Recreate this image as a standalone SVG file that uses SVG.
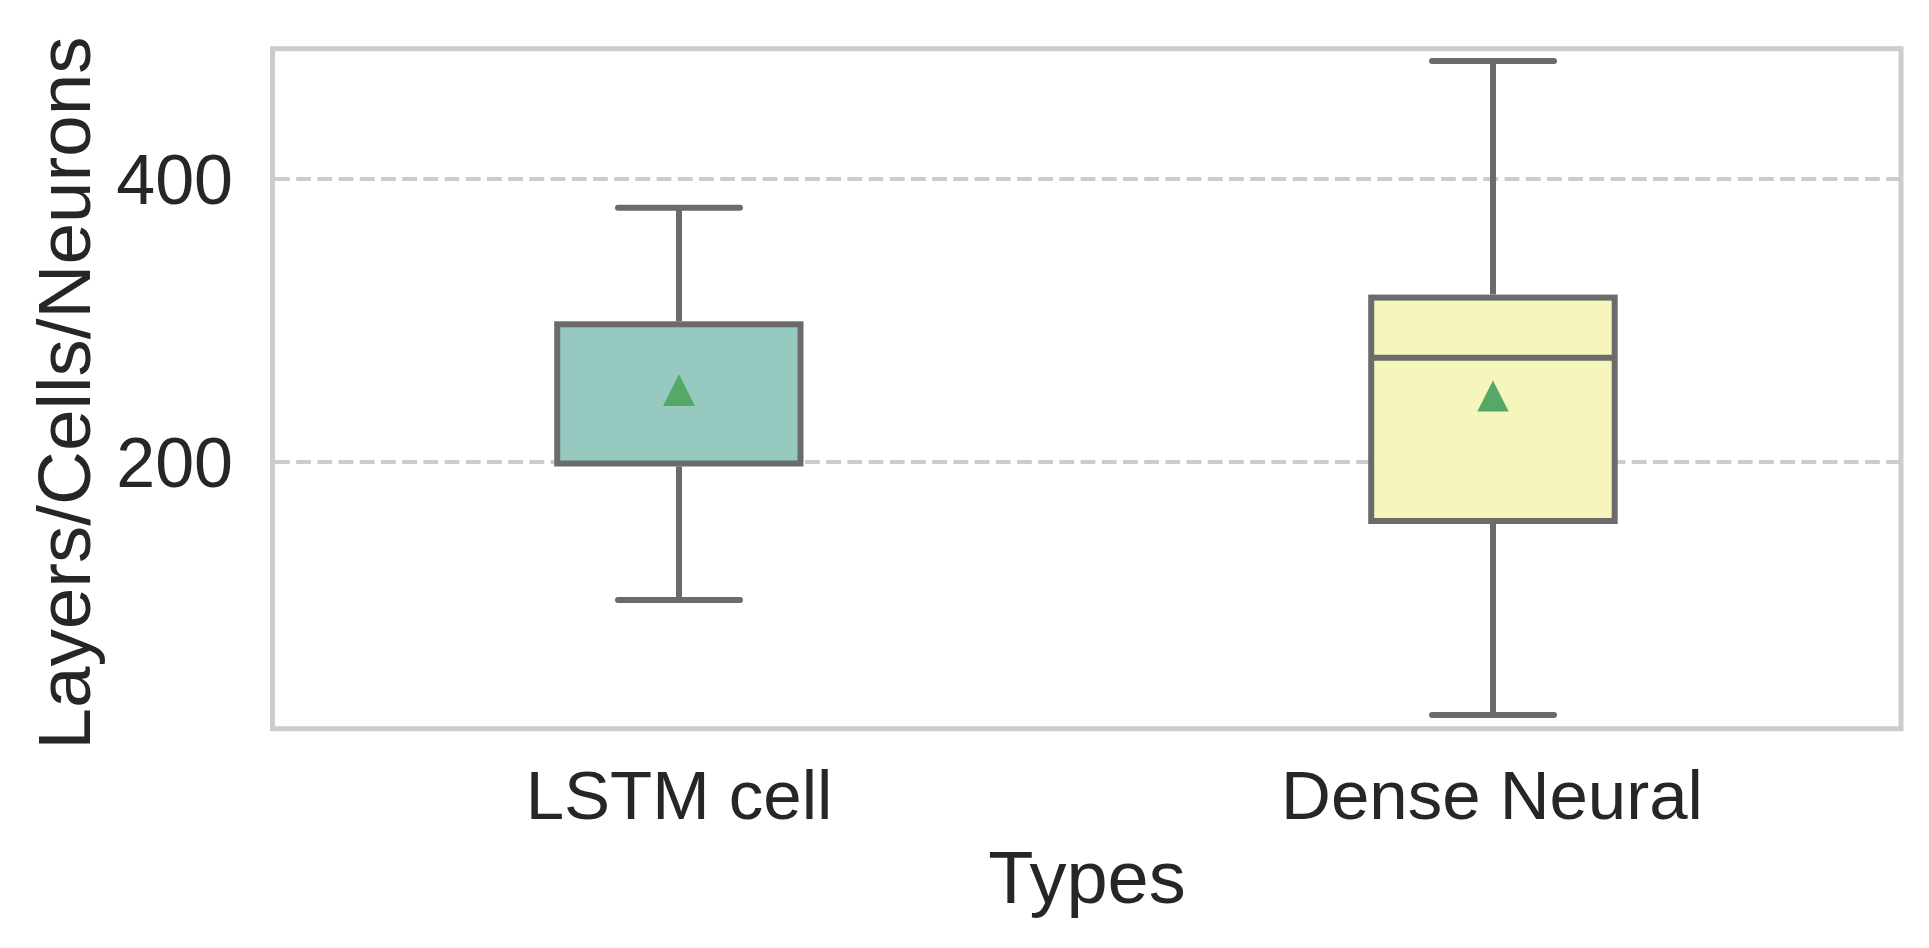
<svg xmlns="http://www.w3.org/2000/svg" width="1929" height="948" viewBox="0 0 1929 948">
<style>
  .txt { font-family: "Liberation Sans", Arial, sans-serif; fill: #262626; }
  .tick { font-size: 70px; }
  .xtick { font-size: 69px; }
  .lab { font-size: 74px; }
  .ylab { font-size: 74.6px; }
  .grid { stroke: #cccccc; stroke-width: 4; stroke-dasharray: 14.8 6.4; fill: none; }
  .frame { stroke: #cccccc; stroke-width: 5; fill: none; }
  .box { stroke: #6b6b6b; stroke-width: 6; }
  .wh { stroke: #6b6b6b; stroke-width: 6; fill: none; }
  .cap { stroke: #6b6b6b; stroke-width: 6; stroke-linecap: round; fill: none; }
  .mean { fill: #55a868; }
</style>
<rect x="0" y="0" width="1929" height="948" fill="#ffffff"/>
<g id="grid">
  <line class="grid" x1="275" y1="179" x2="1899" y2="179"/>
  <line class="grid" x1="275" y1="462" x2="1899" y2="462"/>
</g>
<g id="connectors">
  <line class="wh" x1="679" y1="321.3" x2="679" y2="207.7"/>
  <line class="wh" x1="679" y1="466.5" x2="679" y2="600"/>
  <line class="wh" x1="1493" y1="294.6" x2="1493" y2="61"/>
  <line class="wh" x1="1493" y1="524" x2="1493" y2="715"/>
</g>
<g id="lstm">
  <rect class="box" x="557.2" y="324.3" width="243.3" height="139.2" fill="#96cac1"/>
  <line class="cap" x1="618" y1="207.7" x2="740" y2="207.7"/>
  <line class="cap" x1="618" y1="600" x2="740" y2="600"/>
  <polygon class="mean" points="679,374.3 663,406 695,406"/>
</g>
<g id="dense">
  <rect class="box" x="1371.2" y="297.6" width="243.5" height="223.4" fill="#f6f6bc"/>
  <line class="wh" x1="1371.2" y1="357.8" x2="1614.7" y2="357.8"/>
  <line class="cap" x1="1432" y1="61" x2="1554" y2="61"/>
  <line class="cap" x1="1432" y1="715" x2="1554" y2="715"/>
  <polygon class="mean" points="1493,380.4 1477.3,411.5 1508.7,411.5"/>
</g>
<g id="frame">
  <rect class="frame" x="272.5" y="48.7" width="1628.5" height="680"/>
</g>
<g id="labels">
  <text class="txt tick" x="233" y="204" text-anchor="end">400</text>
  <text class="txt tick" x="233" y="487" text-anchor="end">200</text>
  <text class="txt xtick" x="679" y="818.7" text-anchor="middle">LSTM cell</text>
  <text class="txt xtick" x="1492" y="818.7" text-anchor="middle">Dense Neural</text>
  <text class="txt lab" x="1087" y="902.7" text-anchor="middle">Types</text>
  <text class="txt ylab" transform="translate(90,393) rotate(-90)" x="0" y="0" text-anchor="middle">Layers/Cells/Neurons</text>
</g>
</svg>
